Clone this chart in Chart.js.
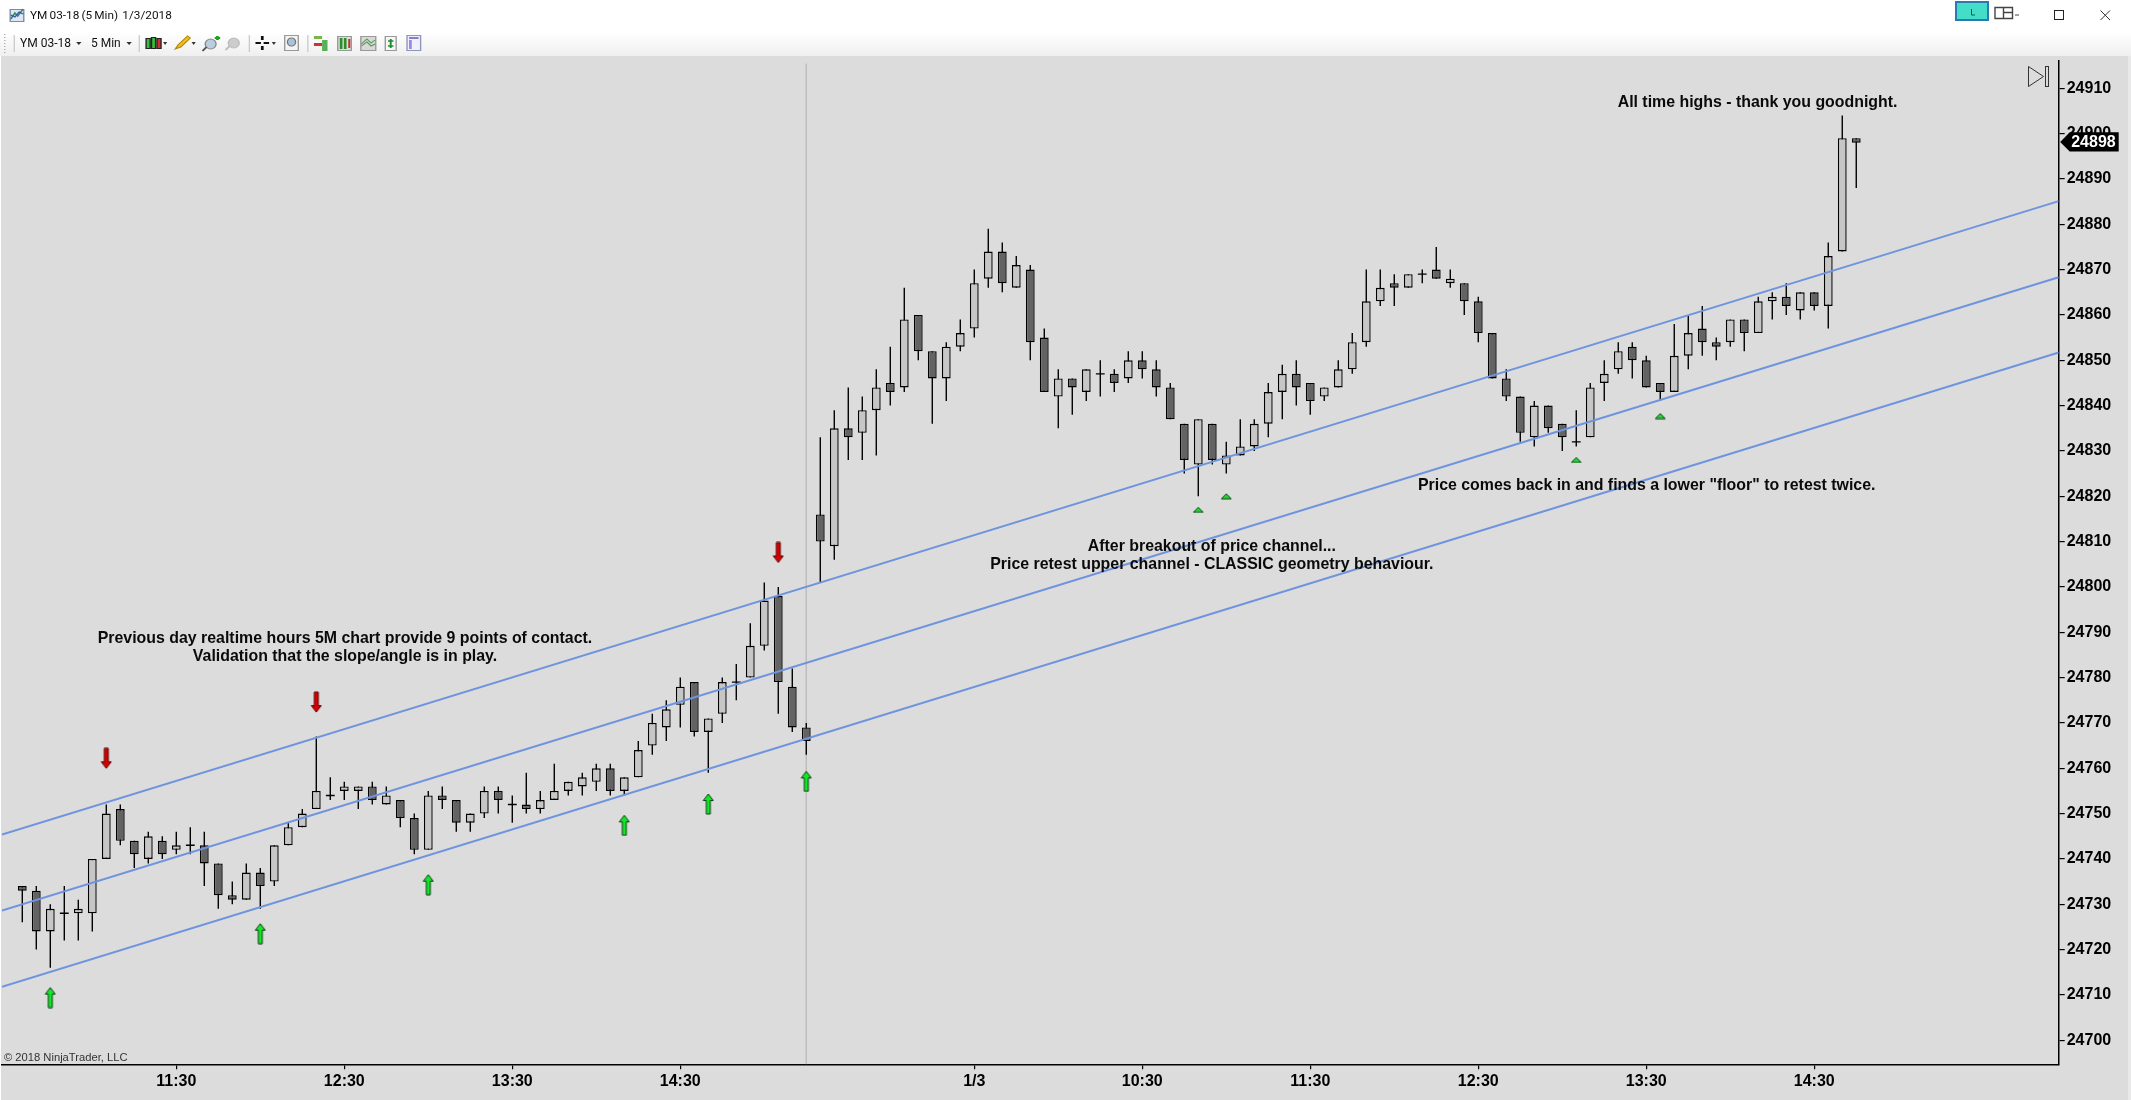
<!DOCTYPE html>
<html><head><meta charset="utf-8">
<script src="https://cdn.jsdelivr.net/npm/chart.js@4/dist/chart.umd.min.js"></script>
<style>
html,body{margin:0;padding:0;background:#fff;width:2131px;height:1100px;overflow:hidden}
#stage{position:relative;width:2131px;height:1100px}
#bar{position:absolute;left:0;top:32px;width:2131px;height:24px;background:linear-gradient(#ffffff,#efefef)}
canvas{position:absolute;left:0;top:0}
svg{position:absolute;left:0;top:0}
.t{position:absolute;font-family:Roboto,"Noto Sans",sans-serif;font-size:12px;color:#111;white-space:pre;line-height:16px}
</style></head><body>
<div id="stage">
<div id="bar"></div>
<canvas id="c" width="2131" height="1100"></canvas>
<svg width="2131" height="56" viewBox="0 0 2131 56">
 <g transform="scale(1.359,1)">
  <g fill="none" stroke-width="1">
    <rect x="7.5" y="9.5" width="10" height="12" fill="#dfe6f5" stroke="#7a8aa8"/>
    <path d="M8 19 L11 13 L13 16 L17 9" stroke="#2e8b57" stroke-width="1.3"/>
    <path d="M8 15 L11 17 L14 12 L17 14" stroke="#3355aa"/>
    <path d="M3.5 34 V54" stroke="#aaa" stroke-dasharray="1 2"/>
    <path d="M10.5 35 V52 M102.5 35 V52 M183.5 35 V52 M226.5 35 V52" stroke="#ccc"/>
  </g>
  <g fill="#333">
    <path d="M56 42 h4 l-2 3 z M93 42 h4 l-2 3 z M120 42 h3 l-1.5 3 z M141 42 h3 l-1.5 3 z M200 42 h3 l-1.5 3 z"/>
  </g>
  <g stroke="#222" stroke-width="1">
    <rect x="107.5" y="38.5" width="3" height="10" fill="#35c035"/><rect x="111.5" y="37.5" width="3" height="11" fill="#35c035"/><rect x="115.5" y="38.5" width="3" height="10" fill="#d03030"/>
  </g>
  <path d="M129 49 L131 45 L138 36 L140 38 L133 47 Z" fill="#f0c020" stroke="#b08a10"/>
  <ellipse cx="155" cy="44" rx="4" ry="5" fill="#b9cfe0" stroke="#888"/><path d="M152 47 L149 51" stroke="#555" stroke-width="1.5"/><path d="M158 38 h4 M160 36 v4" stroke="#20a020" stroke-width="2"/>
  <ellipse cx="172" cy="43" rx="4" ry="5" fill="#ccc" stroke="#bbb"/><path d="M169 46 L166 50" stroke="#bbb" stroke-width="1.5"/>
  <path d="M193 36 v4 M193 46 v4 M188 43 h4 M194 43 h4" stroke="#111" stroke-width="2"/>
  <rect x="209.5" y="35.5" width="10" height="15" fill="#f4f4f4" stroke="#999"/><ellipse cx="214.5" cy="42" rx="3" ry="4" fill="#aac4dc" stroke="#777"/>
  <rect x="231" y="36" width="6" height="3" fill="#7ab648"/><rect x="231" y="43" width="6" height="3" fill="#d03030"/><rect x="237" y="40" width="4" height="11" fill="#58b058"/>
  <rect x="248.5" y="36.5" width="10" height="14" fill="#ddd" stroke="#999"/><path d="M251 38 v11 M254 38 v11" stroke="#2a8f2a" stroke-width="2"/><path d="M257 39 v9" stroke="#c03030" stroke-width="1.5"/>
  <rect x="265.5" y="36.5" width="11" height="14" fill="#d8d8d8" stroke="#999"/><path d="M266 44 L270 39 L273 43 L276 40 M266 46 L270 42 L273 46 L276 44" fill="none" stroke="#5a9a5a"/>
  <rect x="283.5" y="36.5" width="8" height="14" fill="#f6f6f6" stroke="#999"/><path d="M287.5 39 V48 M285.5 41 H289.5 M285.5 46 H289.5" stroke="#1c8f2c" stroke-width="1.4"/>
  <rect x="299.5" y="35.5" width="10" height="15" fill="#eef0fa" stroke="#8e96b6"/><rect x="301" y="37" width="7" height="2" fill="#8c78d8"/><rect x="301" y="40" width="2" height="9" fill="#9c86e0"/>
 </g>
  <rect x="1956" y="2" width="32" height="18" fill="#44ddc8" stroke="#2a78b4" stroke-width="2"/>
  <path d="M1971.5 9 V15 H1975" fill="none" stroke="#0a5a50"/>
  <path d="M1995 7.5 H2012.5 V18.5 H1995 Z M2003.5 7.5 V18.5 M2003.5 12.5 H2012.5" fill="none" stroke="#444" stroke-width="1.4"/>
  <path d="M2015 15 H2019" stroke="#444"/>
  <rect x="2054.5" y="10.5" width="9" height="9" fill="none" stroke="#222"/>
  <path d="M2100.5 10.5 L2110 20 M2110 10.5 L2100.5 20" stroke="#333"/>
</svg>
<div class="t" style="left:30px;top:7px;font-size:11.8px;word-spacing:-0.8px">YM 03-18 (5 Min)  1/3/2018</div>
<div class="t" style="left:20px;top:35px">YM 03-18</div>
<div class="t" style="left:91px;top:35px">5 Min</div>
</div>
<script>
// Session bars, one per five minutes
const opens  = [24734,24733,24724,24728,24728,24728,24740,24751,24744,24740,24744,24742,24743,24743,24739,24732,24731,24737,24735,24743,24747,24751,24754,24755,24755,24756,24752,24753,24749,24742,24754,24753,24748,24750,24755,24752,24752,24751,24753,24755,24756,24757,24760,24755,24758,24765,24769,24774,24779,24768,24772,24779,24780,24787,24798,24778,24769,24816,24809,24835,24834,24839,24845,24844,24860,24852,24846,24853,24857,24868,24874,24866,24870,24855,24842,24846,24843,24847,24847,24846,24850,24848,24844,24836,24827,24836,24827,24829,24831,24836,24843,24847,24845,24842,24844,24848,24854,24863,24867,24866,24869,24870,24867,24867,24863,24856,24846,24842,24833,24840,24836,24832,24833,24845,24848,24853,24850,24845,24843,24851,24857,24854,24854,24859,24856,24863,24864,24861,24865,24862,24874,24899];
const highs  = [24734,24734,24730,24734,24731,24740,24752,24752,24744,24746,24745,24746,24747,24746,24739,24735,24739,24738,24743,24748,24751,24767,24758,24757,24756,24757,24756,24753,24750,24755,24756,24753,24750,24756,24756,24754,24759,24755,24761,24757,24759,24761,24761,24758,24766,24772,24775,24780,24779,24771,24780,24783,24792,24801,24800,24782,24770,24833,24839,24844,24842,24848,24853,24866,24860,24852,24854,24859,24870,24879,24876,24873,24871,24857,24848,24846,24848,24850,24848,24852,24852,24850,24845,24836,24837,24836,24832,24837,24837,24845,24849,24850,24845,24844,24850,24856,24870,24870,24869,24869,24870,24875,24870,24867,24864,24856,24848,24842,24841,24840,24836,24839,24845,24850,24854,24854,24851,24845,24858,24860,24862,24855,24859,24859,24864,24865,24867,24865,24865,24876,24904,24899];
const lows   = [24726,24720,24716,24722,24722,24724,24740,24743,24738,24739,24740,24741,24741,24734,24729,24730,24731,24729,24734,24743,24747,24751,24753,24753,24751,24752,24752,24747,24741,24742,24751,24746,24746,24749,24750,24748,24750,24750,24753,24754,24754,24755,24754,24754,24758,24763,24766,24769,24767,24759,24770,24775,24780,24786,24772,24768,24763,24801,24806,24828,24828,24829,24840,24843,24850,24836,24841,24852,24855,24866,24865,24866,24850,24843,24835,24838,24841,24842,24843,24845,24846,24842,24837,24825,24820,24827,24825,24829,24830,24833,24837,24840,24838,24841,24844,24847,24853,24862,24862,24866,24867,24868,24866,24860,24854,24846,24841,24832,24831,24834,24830,24831,24833,24841,24847,24846,24844,24841,24843,24848,24851,24850,24853,24852,24856,24859,24860,24859,24861,24857,24874,24888];
const closes = [24733,24724,24729,24728,24729,24740,24750,24744,24741,24745,24741,24743,24743,24739,24732,24731,24737,24734,24743,24747,24750,24755,24754,24756,24756,24753,24754,24749,24742,24754,24753,24748,24750,24755,24753,24752,24751,24753,24755,24757,24758,24760,24755,24758,24764,24770,24773,24778,24768,24771,24779,24779,24787,24797,24779,24769,24766,24810,24835,24833,24839,24844,24843,24859,24852,24846,24853,24856,24867,24874,24867,24871,24854,24843,24846,24844,24848,24847,24845,24850,24848,24844,24837,24828,24837,24828,24829,24831,24836,24843,24847,24844,24841,24844,24848,24854,24863,24866,24866,24869,24869,24868,24868,24863,24856,24846,24842,24834,24840,24835,24833,24832,24844,24847,24852,24850,24844,24843,24851,24856,24854,24853,24859,24856,24863,24864,24862,24865,24862,24873,24899,24898];

const axisTickBars   = [11,23,35,47,68,80,92,104,116,128];
const axisTickLabels = ['11:30','12:30','13:30','14:30','1/3','10:30','11:30','12:30','13:30','14:30'];
const xRange = [-1.45,145.46];
const yRange = [24694.69,24916.02];

const channelBars  = [-1.45,145.46];
const channelUpper = [24745.4,24885.1];
const channelMiddle= [24728.6,24868.3];
const channelLower = [24711.8,24851.7];

const sessionBreakBar = 56;
const sessionBreakSpan = [24915.4,24694.69];

const upArrowBars = [2,17,29,43,49,56];
const upArrowVals = [24709.4,24723.5,24734.3,24747.4,24752.1,24757.1];
const downArrowBars = [6,21,54];
const downArrowVals = [24762.2,24774.6,24807.6];
const triangleBars = [84,86,111,117];
const triangleVals = [24817,24820,24828,24837.7];

const noteTexts = ['All time highs - thank you goodnight.','Previous day realtime hours 5M chart provide 9 points of contact.','Validation that the slope/angle is in play.','After breakout of price channel...','Price retest upper channel - CLASSIC geometry behaviour.','Price comes back in and finds a lower "floor" to retest twice.'];
const noteBars = [123.95,23.05,23.05,84.97,84.97,116.03];
const noteVals = [24906.8,24788.6,24784.7,24808.9,24804.9,24822.4];

const UI = '"Liberation Sans",Arial,sans-serif';

function glyph(w,h,fill,stroke,pts){
  const g=document.createElement('canvas');g.width=w;g.height=h;
  const x=g.getContext('2d');x.beginPath();
  pts.forEach((p,i)=>i?x.lineTo(p[0],p[1]):x.moveTo(p[0],p[1]));
  x.closePath();x.fillStyle=fill;x.fill();x.strokeStyle=stroke;x.lineWidth=1;x.stroke();
  return g;
}
const upGlyph=glyph(12,22,'#10e828','#0a3a10',[[6,1],[11,7.5],[8,7.5],[8,21],[4,21],[4,7.5],[1,7.5]]);
const downGlyph=glyph(12,22,'#d80000','#5a0000',[[6,21],[11,14.5],[8,14.5],[8,1],[4,1],[4,14.5],[1,14.5]]);
const triGlyph=glyph(12,7,'#22d832','#0a4a10',[[6,1],[11,6],[1,6]]);

const bars=opens.map((_,i)=>i);
const wickData=bars.map(i=>({x:i,y:[lows[i],highs[i]]}));
const bodyIdx=bars.filter(i=>opens[i]!==closes[i]);
const bodyData=bodyIdx.map(i=>({x:i,y:[opens[i],closes[i]]}));
const bodyFill=bodyIdx.map(i=>closes[i]>opens[i]?'#c6c6c6':'#636363');
const dojiData=bars.filter(i=>opens[i]===closes[i]).map(i=>({x:i,y:closes[i]}));
const pts=(xs,ys)=>xs.map((x,i)=>({x,y:ys[i]}));
const chan=(vals)=>({type:'line',data:pts(channelBars,vals),borderColor:'#6f94de',borderWidth:2,pointRadius:0,order:2,tension:0});
const marks=(xs,ys,g)=>({type:'scatter',data:pts(xs,ys),pointStyle:g,order:1});

const deco={id:'deco',
  beforeDraw(c){const x=c.ctx;x.save();x.fillStyle='#dcdcdc';x.fillRect(1,56,2127,1044);x.fillStyle='#e9e9e9';x.fillRect(2128,56,3,1044);x.restore();},
  afterDatasetsDraw(c){
    const x=c.ctx,sx=c.scales.x,sy=c.scales.y;x.save();
    x.font='bold 15.9px '+UI;x.fillStyle='#0a0a0a';x.textAlign='center';x.textBaseline='middle';
    noteTexts.forEach((t,i)=>x.fillText(t,sx.getPixelForValue(noteBars[i]),sy.getPixelForValue(noteVals[i])));
    x.restore();
  },
  afterDraw(c){
    const x=c.ctx,sy=c.scales.y,a=c.chartArea;x.save();
    x.font='11.2px '+UI;x.fillStyle='#333';x.textAlign='left';x.textBaseline='middle';
    x.fillText('\u00A9 2018 NinjaTrader, LLC',4,a.bottom-6.5);
    const last=closes[closes.length-1],py=sy.getPixelForValue(last)-0.8;
    x.fillStyle='#000';x.beginPath();x.moveTo(a.right+1.5,py);x.lineTo(a.right+11,py-9.7);x.lineTo(a.right+60,py-9.7);x.lineTo(a.right+60,py+9.7);x.lineTo(a.right+11,py+9.7);x.closePath();x.fill();
    x.font='bold 16px '+UI;x.fillStyle='#fff';x.fillText(String(last),a.right+12.5,py+1);
    x.strokeStyle='#333';x.lineWidth=1;x.beginPath();x.moveTo(2028.5,66.5);x.lineTo(2043.5,76.5);x.lineTo(2028.5,86.5);x.closePath();x.stroke();
    x.strokeRect(2045.5,66.5,3,20);
    x.restore();
  }
};

new Chart(document.getElementById('c'),{
  type:'bar',
  plugins:[deco],
  data:{datasets:[
    {type:'line',data:[{x:sessionBreakBar,y:sessionBreakSpan[0]},{x:sessionBreakBar,y:sessionBreakSpan[1]}],borderColor:'#bdbdbd',borderWidth:1,pointRadius:0,order:7},
    {data:wickData,backgroundColor:'#000',borderWidth:0,barThickness:1.4,grouped:false,inflateAmount:0,order:6},
    {data:bodyData,backgroundColor:bodyFill,borderColor:'#000',borderWidth:1.4,borderSkipped:false,barThickness:8.8,grouped:false,inflateAmount:0,order:5},
    {type:'scatter',data:dojiData,pointStyle:'line',pointRadius:4.4,pointBorderColor:'#000',pointBorderWidth:1.4,borderColor:'#000',order:4},
    chan(channelUpper),chan(channelMiddle),chan(channelLower),
    marks(upArrowBars,upArrowVals,upGlyph),
    marks(downArrowBars,downArrowVals,downGlyph),
    marks(triangleBars,triangleVals,triGlyph)
  ]},
  options:{
    responsive:false,animation:false,devicePixelRatio:1,
    layout:{autoPadding:false,padding:{left:2,top:61,right:0,bottom:0}},
    plugins:{legend:{display:false},tooltip:{enabled:false},title:{display:false}},
    scales:{
      x:{type:'linear',position:'bottom',offset:false,min:xRange[0],max:xRange[1],
        afterBuildTicks(s){s.ticks=axisTickBars.map(v=>({value:v}));},
        afterFit(s){s.height=35.7;s.paddingLeft=0;s.paddingRight=0;},
        grid:{offset:false,drawOnChartArea:false,drawTicks:true,tickLength:5,color:'#000',lineWidth:1.2},
        border:{display:true,color:'#000',width:1.5},
        ticks:{autoSkip:false,maxRotation:0,minRotation:0,padding:2.4,color:'#000',font:{family:UI,size:16,weight:'bold'},
          callback(v){const i=axisTickBars.indexOf(v);return i<0?'':axisTickLabels[i];}}},
      y:{type:'linear',position:'right',min:yRange[0],max:yRange[1],
        afterFit(s){s.width=72.3;s.paddingTop=0;s.paddingBottom=0;},
        grid:{drawOnChartArea:false,drawTicks:true,tickLength:6,color:'#000',lineWidth:1.2},
        border:{display:true,color:'#000',width:1.5},
        ticks:{stepSize:10,includeBounds:false,padding:2,color:'#000',font:{family:UI,size:16,weight:'bold'},callback:v=>String(v)}}
    }
  }
});
</script>
</body></html>
